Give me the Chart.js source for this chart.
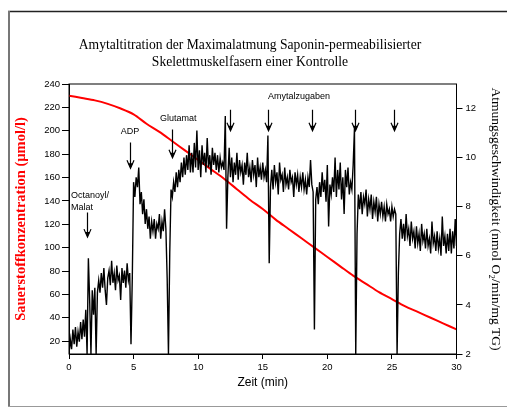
<!DOCTYPE html>
<html>
<head>
<meta charset="utf-8">
<script src="https://cdn.jsdelivr.net/npm/chart.js@4"></script>
<style>
  html, body { margin: 0; padding: 0; background: #fff; }
  #wrap { width: 507px; height: 418px; position: relative; }
</style>
</head>
<body>
<div id="wrap"><canvas id="plot"></canvas></div>
<script>
const TITLE_LINES = [
  'Amytaltitration der Maximalatmung Saponin-permeabilisierter',
  'Skelettmuskelfasern einer Kontrolle'
];

const TIME_TICKS = [0, 5, 10, 15, 20, 25, 30];
const O2_TICKS = [20, 40, 60, 80, 100, 120, 140, 160, 180, 200, 220, 240];
const RATE_TICKS = [2, 4, 6, 8, 10, 12];

// Sauerstoffkonzentration (left axis), one reading per minute
const O2_TIMES = [0, 1, 2, 3, 4, 5, 6, 7, 8, 9, 10, 11, 12, 13, 14, 15,
  16, 17, 18, 19, 20, 21, 22, 23, 24, 25, 26, 27, 28, 29, 30];
const O2_VALUES = [230, 228, 226, 223, 219, 214, 206, 199, 191, 183, 175, 167, 159, 150, 141, 133,
  124, 116, 108, 100, 92, 84, 76, 69, 62, 56, 50, 45, 40, 35, 30];

// Atmungsgeschwindigkeit (right axis), one reading every 0.1 min
const RATE_STEP_MIN = 0.1;
const RATE_VALUES = [
  2.0, 2.6, 2.2, 3.0, 2.4, 3.1, 2.3, 2.9, 2.5, 3.3,
  2.6, 3.4, 2.7, 3.8, 2.0, 5.9, 4.2, 2.0, 4.6, 3.6,
  4.7, 2.0, 4.5, 5.0, 4.5, 5.3, 4.7, 5.5, 4.6, 4.0,
  5.1, 5.4, 4.8, 5.8, 4.9, 5.3, 4.6, 5.6, 5.0, 5.2,
  4.2, 5.5, 4.9, 5.4, 4.7, 5.7, 5.0, 5.3, 2.4, 5.1,
  9.0, 8.4, 9.2, 8.8, 9.6, 8.1, 8.6, 7.7, 8.3, 7.3,
  7.9, 7.1, 7.6, 6.7, 7.4, 7.0, 7.5, 6.7, 7.3, 7.1,
  7.7, 6.7, 7.4, 7.0, 7.9, 7.1, 5.1, 2.0, 6.1, 8.7,
  8.4, 9.0, 8.6, 9.4, 8.8, 9.5, 9.0, 9.8, 9.2, 10.0,
  9.3, 10.1, 9.5, 10.5, 9.4, 10.2, 9.4, 10.6, 9.6, 11.1,
  9.5, 10.3, 9.2, 10.5, 9.7, 10.2, 9.4, 10.8, 9.6, 10.1,
  9.3, 10.4, 9.7, 10.2, 9.5, 10.1, 9.4, 10.0, 9.6, 9.8,
  9.5, 11.7, 7.1, 9.2, 10.4, 9.2, 10.0, 9.0, 9.8, 9.3,
  10.2, 9.1, 9.9, 9.4, 9.7, 8.9, 9.8, 9.3, 10.2, 9.2,
  9.6, 9.0, 9.9, 9.3, 9.7, 8.8, 10.0, 9.2, 9.6, 9.1,
  9.8, 9.2, 9.5, 9.0, 10.9, 5.7, 8.8, 9.5, 8.7, 9.7,
  9.0, 9.4, 8.5, 9.8, 9.1, 9.3, 8.6, 9.6, 8.9, 9.2,
  8.7, 9.5, 9.0, 9.2, 8.4, 9.4, 8.9, 9.3, 8.6, 9.2,
  8.8, 9.4, 8.7, 9.1, 8.5, 9.2, 8.8, 9.9, 8.9, 8.6,
  3.0, 8.3, 8.8, 8.1, 9.0, 8.4, 9.4, 8.6, 9.1, 8.2,
  9.7, 7.2, 8.9, 8.5, 9.2, 8.6, 10.0, 8.4, 9.5, 8.7,
  9.8, 8.3, 9.2, 7.7, 9.5, 8.8, 9.6, 8.5, 9.0, 8.7,
  9.7, 11.2, 2.0, 6.9, 8.5, 7.9, 8.6, 7.7, 8.4, 8.1,
  8.7, 7.6, 8.3, 7.9, 8.5, 7.5, 8.2, 7.8, 8.4, 7.4,
  8.1, 7.7, 8.2, 7.6, 8.0, 7.4, 8.1, 7.7, 7.9, 7.4,
  8.0, 7.6, 7.9, 7.7, 2.0, 5.3, 6.9, 7.5, 6.7, 7.3,
  6.6, 7.7, 6.8, 7.1, 6.4, 7.4, 6.7, 7.0, 6.3, 7.2,
  6.5, 6.9, 6.2, 7.3, 6.6, 6.9, 6.3, 7.1, 6.4, 6.7,
  6.1, 7.4, 6.5, 6.8, 6.2, 7.0, 6.3, 6.7, 6.0, 7.6,
  6.4, 6.8, 6.1, 6.9, 6.2, 7.1, 6.1, 7.0, 6.3, 7.5,
  6.4
];

// Zugaben (arrows): time in min, arrow from/to in O2 axis units
const ADDITION_TIMES = [1.37, 4.73, 7.96, 12.48, 15.39, 18.8, 22.17, 25.19];
const ADDITION_TOPS = [130, 190, 201, 218, 218, 218, 218, 218];
const ADDITION_TIPS = [109, 168, 177, 200, 200, 200, 200, 200];

const ADDITION_LABELS = ['Octanoyl/', 'Malat', 'ADP', 'Glutamat', 'Amytalzugaben'];
const ADDITION_LABEL_TIMES = [0.15, 0.15, 4.73, 8.45, 15.4];
const ADDITION_LABEL_O2 = [145, 134, 199.5, 210.5, 229.5];

const CHART_AREA = { left: 69, right: 456.5, top: 84, bottom: 354 };

function buildRatePoints() {
  return RATE_VALUES.map((value, index) => ({
    x: Number((index * RATE_STEP_MIN).toFixed(1)),
    y: value
  }));
}

function buildO2Points() {
  return O2_TIMES.map((time, index) => ({ x: time, y: O2_VALUES[index] }));
}

function fixedTicks(values) {
  return (scale) => {
    scale.ticks = values.map((value) => ({ value }));
  };
}

const framePlugin = {
  id: 'frame',
  beforeDraw(chart) {
    const { ctx } = chart;
    ctx.save();
    ctx.fillStyle = '#fff';
    ctx.fillRect(0, 0, chart.width, chart.height);

    ctx.strokeStyle = '#222';
    ctx.lineWidth = 1.5;
    ctx.beginPath();
    ctx.moveTo(8, 11.5);
    ctx.lineTo(chart.width, 11.5);
    ctx.stroke();

    ctx.strokeStyle = '#777';
    ctx.lineWidth = 2;
    ctx.beginPath();
    ctx.moveTo(9, 11);
    ctx.lineTo(9, 407);
    ctx.stroke();

    ctx.strokeStyle = '#999';
    ctx.lineWidth = 1;
    ctx.beginPath();
    ctx.moveTo(8, 406.5);
    ctx.lineTo(chart.width, 406.5);
    ctx.stroke();

    ctx.fillStyle = '#000';
    ctx.font = '13.6px "Liberation Serif"';
    ctx.textAlign = 'center';
    ctx.textBaseline = 'middle';
    ctx.fillText(TITLE_LINES[0], 250, 45);
    ctx.fillText(TITLE_LINES[1], 250, 62);
    ctx.restore();
  },
  afterDraw(chart) {
    const { ctx, chartArea } = chart;
    const xScale = chart.scales.x;
    const yScale = chart.scales.y;

    ctx.save();
    ctx.strokeStyle = '#000';
    ctx.lineWidth = 1;
    ctx.strokeRect(chartArea.left, chartArea.top, chartArea.right - chartArea.left, chartArea.bottom - chartArea.top);

    ctx.fillStyle = '#000';
    ADDITION_TIMES.forEach((time, index) => {
      const x = Math.round(xScale.getPixelForValue(time)) + 0.5;
      const top = yScale.getPixelForValue(ADDITION_TOPS[index]);
      const tip = yScale.getPixelForValue(ADDITION_TIPS[index]);

      ctx.lineWidth = 1.2;
      ctx.beginPath();
      ctx.moveTo(x, top);
      ctx.lineTo(x, tip);
      ctx.moveTo(x - 3.5, tip - 8);
      ctx.lineTo(x, tip);
      ctx.lineTo(x + 3.5, tip - 8);
      ctx.stroke();

      ctx.beginPath();
      ctx.moveTo(x - 2.5, tip - 5);
      ctx.lineTo(x + 2.5, tip - 5);
      ctx.lineTo(x, tip);
      ctx.closePath();
      ctx.fill();
    });

    ctx.font = '9px "Liberation Sans"';
    ctx.textBaseline = 'middle';
    ADDITION_LABELS.forEach((label, index) => {
      const x = xScale.getPixelForValue(ADDITION_LABEL_TIMES[index]);
      const y = yScale.getPixelForValue(ADDITION_LABEL_O2[index]);
      ctx.textAlign = index < 2 || index === 4 ? 'left' : 'center';
      ctx.fillText(label, x, y);
    });
    ctx.restore();
  }
};

const axisGrid = {
  display: true,
  drawOnChartArea: false,
  drawTicks: true,
  color: '#000',
  tickColor: '#000'
};

const tickFont = { family: 'Liberation Sans', size: 9.5 };

new Chart(document.getElementById('plot'), {
  type: 'line',
  data: {
    datasets: [
      {
        label: 'Atmungsgeschwindigkeit',
        data: buildRatePoints(),
        yAxisID: 'y1',
        borderColor: '#000',
        borderWidth: 1.4,
        pointRadius: 0,
        tension: 0,
        order: 0
      },
      {
        label: 'Sauerstoffkonzentration',
        data: buildO2Points(),
        yAxisID: 'y',
        borderColor: '#ff0000',
        borderWidth: 2,
        pointRadius: 0,
        tension: 0.3,
        order: 1
      }
    ]
  },
  options: {
    responsive: true,
    maintainAspectRatio: false,
    animation: false,
    layout: {
      padding: { top: CHART_AREA.top, left: 8, right: 3, bottom: 20 }
    },
    plugins: {
      legend: { display: false },
      tooltip: { enabled: false }
    },
    scales: {
      x: {
        type: 'linear',
        min: 0,
        max: 30,
        afterBuildTicks: fixedTicks(TIME_TICKS),
        afterFit: (scale) => { scale.height = 418 - 20 - CHART_AREA.bottom; },
        grid: { ...axisGrid, tickLength: 5 },
        border: { display: true, color: '#000' },
        ticks: { color: '#000', font: tickFont, padding: 3, maxRotation: 0 },
        title: {
          display: true,
          text: 'Zeit (min)',
          color: '#000',
          font: { family: 'Liberation Sans', size: 12 },
          padding: { top: 0, bottom: 8 }
        }
      },
      y: {
        type: 'linear',
        position: 'left',
        min: 9,
        max: 240,
        afterBuildTicks: fixedTicks(O2_TICKS),
        afterFit: (scale) => { scale.width = CHART_AREA.left - 8; },
        grid: { ...axisGrid, tickLength: 7 },
        border: { display: true, color: '#000' },
        ticks: { color: '#000', font: tickFont, padding: 2 },
        title: {
          display: true,
          text: 'Sauerstoffkonzentration (µmol/l)',
          color: '#ff0000',
          font: { family: 'Liberation Serif', size: 14.5, weight: 'bold' },
          padding: { top: 5, bottom: 0 }
        }
      },
      y1: {
        type: 'linear',
        position: 'right',
        min: 2,
        max: 13,
        afterBuildTicks: fixedTicks(RATE_TICKS),
        afterFit: (scale) => { scale.width = 504 - CHART_AREA.right; },
        grid: { ...axisGrid, tickLength: 6 },
        border: { display: true, color: '#000' },
        ticks: { color: '#000', font: tickFont, padding: 3 },
        title: {
          display: true,
          text: 'Atmungsgeschwindigkeit (nmol O₂/min/mg TG)',
          color: '#000',
          font: { family: 'Liberation Serif', size: 13.5 },
          padding: { top: 0, bottom: 0 }
        }
      }
    }
  },
  plugins: [framePlugin]
});
</script>
</body>
</html>
